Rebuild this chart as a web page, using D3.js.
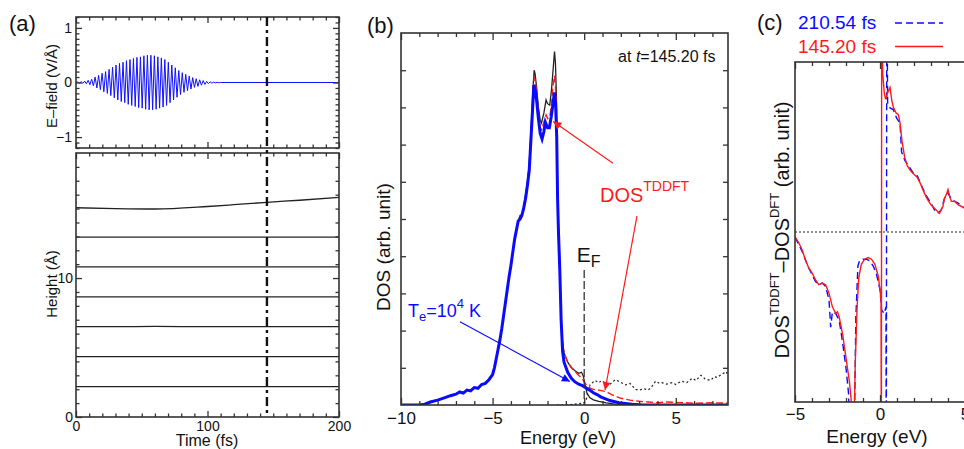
<!DOCTYPE html>
<html lang="en">
<head>
<meta charset="utf-8">
<title>E-field, layer heights and DOS</title>
<script src="https://d3js.org/d3.v7.min.js"></script>
<style>
  body { margin:0; background:#fff; }
  text { font-family: "Liberation Sans", Arial, Helvetica, sans-serif; }
</style>
</head>
<body>
<script>
// ---------- panel (a): laser pulse + layer heights ----------
var pulsePeakTimes = [1.3, 3.95, 6.6, 9.25, 11.9, 14.55, 17.2, 19.85, 22.5, 25.15, 27.8, 30.45, 33.1, 35.75,
  38.4, 41.05, 43.7, 46.35, 49.0, 51.65, 54.3, 56.95, 59.6, 62.25, 64.9, 67.55, 70.2, 72.85, 75.5, 78.15,
  80.8, 83.45, 86.1, 88.75, 91.4, 94.05, 96.7, 99.35, 102.0, 104.65, 107.3];
var pulsePeakAmps = [0.01, 0.015, 0.025, 0.04, 0.06, 0.1, 0.13, 0.17, 0.2, 0.24, 0.28, 0.32, 0.35, 0.37,
  0.4, 0.42, 0.44, 0.46, 0.47, 0.49, 0.5, 0.5, 0.49, 0.47, 0.45, 0.42, 0.37, 0.32, 0.27, 0.22,
  0.18, 0.15, 0.12, 0.09, 0.07, 0.05, 0.035, 0.02, 0.012, 0.007, 0.004];
var carrierHalfPeriod = 1.33;
var probeTime = 145.2;

var layerTimes = [0, 30, 60, 100, 120, 145, 170, 200];
var layerHeights = [
  [2.18, 2.18, 2.18, 2.18, 2.18, 2.18, 2.18, 2.18],
  [4.34, 4.34, 4.34, 4.34, 4.34, 4.34, 4.34, 4.34],
  [6.5, 6.5, 6.52, 6.5, 6.5, 6.5, 6.5, 6.5],
  [8.65, 8.65, 8.65, 8.65, 8.65, 8.65, 8.65, 8.65],
  [10.8, 10.8, 10.8, 10.81, 10.81, 10.81, 10.81, 10.81],
  [12.95, 12.95, 12.95, 12.95, 12.95, 12.95, 12.95, 12.95],
  [15.06, 15.0, 14.97, 15.15, 15.28, 15.45, 15.6, 15.8]
];

// ---------- panel (b): DOS at t = 145.20 fs ----------
var dosDFT = [[-10,0],[-9,0],[-8.7,0.02],[-8.4,0.08],[-8,0.14],[-7.6,0.2],[-7.3,0.25],[-7,0.3],[-6.8,0.36],
  [-6.6,0.33],[-6.4,0.41],[-6.2,0.39],[-6,0.47],[-5.8,0.45],[-5.6,0.55],[-5.4,0.58],[-5.2,0.68],[-5,0.82],
  [-4.9,1.0],[-4.8,1.25],[-4.7,1.5],[-4.6,1.75],[-4.5,2.05],[-4.4,2.4],[-4.3,2.75],[-4.2,3.1],[-4.1,3.45],
  [-4,3.75],[-3.9,4.1],[-3.8,4.45],[-3.7,4.7],[-3.6,4.95],[-3.5,5.1],[-3.4,5.1],[-3.3,5.35],[-3.2,5.65],
  [-3.1,6.0],[-3,6.5],[-2.9,7.4],[-2.8,8.5],[-2.73,9.0],[-2.68,8.9],[-2.6,8.55],[-2.5,8.0],[-2.4,7.65],
  [-2.33,7.58],[-2.2,7.85],[-2.08,8.2],[-2.0,8.1],[-1.88,8.06],[-1.78,8.5],[-1.7,9.0],[-1.62,9.5],
  [-1.57,9.2],[-1.52,8.4],[-1.47,6.5],[-1.43,4.8],[-1.35,4.0],[-1.28,2.6],[-1.2,1.75],[-1.1,1.4],
  [-0.9,1.15],[-0.7,1.0],[-0.5,0.92],[-0.3,0.85],[-0.15,0.88],[-0.05,0.78],[0.05,0.55],[0.15,0.32],
  [0.3,0.2],[0.5,0.14],[0.8,0.1],[1.2,0.06],[1.6,0.03],[2.2,0],[7.85,0]];
var dosTDDFT = [[-10,0],[-9,0],[-8.7,0.02],[-8.4,0.08],[-8,0.14],[-7.6,0.2],[-7.3,0.25],[-7,0.3],[-6.8,0.36],
  [-6.6,0.33],[-6.4,0.41],[-6.2,0.39],[-6,0.47],[-5.8,0.45],[-5.6,0.55],[-5.4,0.58],[-5.2,0.68],[-5,0.82],
  [-4.9,1.0],[-4.8,1.25],[-4.7,1.5],[-4.6,1.75],[-4.5,2.05],[-4.4,2.4],[-4.3,2.75],[-4.2,3.1],[-4.1,3.45],
  [-4,3.75],[-3.9,4.1],[-3.8,4.45],[-3.7,4.7],[-3.6,4.95],[-3.5,5.05],[-3.4,5.1],[-3.3,5.3],[-3.2,5.6],
  [-3.1,5.95],[-3,6.4],[-2.9,7.3],[-2.8,8.3],[-2.73,8.8],[-2.68,8.75],[-2.6,8.45],[-2.5,7.85],[-2.4,7.45],
  [-2.33,7.4],[-2.2,7.6],[-2.08,7.8],[-2.0,7.7],[-1.88,7.75],[-1.78,8.1],[-1.7,8.6],[-1.62,8.85],
  [-1.57,8.6],[-1.52,8.0],[-1.47,6.5],[-1.43,4.8],[-1.35,4.0],[-1.28,2.6],[-1.2,1.75],[-1.1,1.4],
  [-0.9,1.15],[-0.6,0.95],[-0.3,0.8],[-0.1,0.7],[0.1,0.55],[0.3,0.46],[0.5,0.42],[0.8,0.4],[1.0,0.38],
  [1.2,0.36],[1.5,0.28],[2.0,0.18],[2.5,0.13],[3.0,0.1],[3.5,0.08],[4.0,0.06],[4.5,0.08],[5.0,0.07],
  [5.5,0.06],[6.0,0.05],[7.0,0.06],[7.85,0.05]];
var dosHotElectron = [[-10,0],[-9,0],[-8.7,0.02],[-8.4,0.08],[-8,0.13],[-7.6,0.2],[-7.3,0.25],[-7,0.29],[-6.8,0.35],
  [-6.6,0.32],[-6.4,0.4],[-6.2,0.38],[-6,0.47],[-5.8,0.45],[-5.6,0.55],[-5.4,0.58],[-5.2,0.68],[-5,0.82],
  [-4.9,1.0],[-4.8,1.25],[-4.7,1.5],[-4.6,1.75],[-4.5,2.05],[-4.4,2.4],[-4.3,2.75],[-4.2,3.1],[-4.1,3.45],
  [-4,3.75],[-3.9,4.1],[-3.8,4.45],[-3.7,4.7],[-3.6,4.95],[-3.5,5.0],[-3.4,5.1],[-3.3,5.3],[-3.2,5.55],
  [-3.1,5.9],[-3,6.3],[-2.9,7.2],[-2.8,8.1],[-2.75,8.6],[-2.68,8.5],[-2.6,8.2],[-2.5,7.7],[-2.4,7.3],
  [-2.3,7.15],[-2.2,7.35],[-2.12,7.6],[-2.0,7.45],[-1.9,7.45],[-1.8,7.75],[-1.7,8.1],[-1.63,8.4],
  [-1.56,8.1],[-1.5,7.2],[-1.45,5.5],[-1.4,4.6],[-1.33,3.6],[-1.26,2.3],[-1.18,1.45],[-1.1,1.15],
  [-0.9,0.88],[-0.7,0.72],[-0.5,0.62],[-0.3,0.56],[-0.1,0.52],[0.1,0.46],[0.3,0.4],[0.5,0.33],[0.7,0.28],
  [0.9,0.22],[1.1,0.18],[1.4,0.12],[1.9,0.06],[2.6,0.02],[3.2,0],[7.85,0]];
var dosUnoccupied = [[-1.5,0],[-0.8,0.01],[-0.4,0.03],[-0.1,0.05],[0.1,0.1],[0.2,0.35],[0.32,0.54],[0.45,0.6],
  [0.6,0.66],[0.8,0.6],[0.97,0.66],[1.15,0.58],[1.33,0.52],[1.5,0.6],[1.7,0.68],[1.95,0.62],[2.25,0.54],
  [2.5,0.58],[2.8,0.42],[3.0,0.4],[3.25,0.44],[3.5,0.4],[3.7,0.5],[3.9,0.64],[4.1,0.58],[4.25,0.6],
  [4.5,0.56],[4.8,0.6],[5.0,0.55],[5.3,0.64],[5.6,0.6],[5.9,0.72],[6.1,0.66],[6.37,0.8],[6.6,0.7],
  [6.9,0.66],[7.1,0.76],[7.25,0.74],[7.5,0.82],[7.75,0.9],[7.85,0.8]];

// ---------- panel (c): DOS(TDDFT) - DOS(DFT) ----------
var diff14520 = [[-5,-0.03],[-4.8,-0.06],[-4.6,-0.1],[-4.4,-0.16],[-4.2,-0.21],[-4,-0.24],[-3.8,-0.28],
  [-3.6,-0.31],[-3.4,-0.3],[-3.2,-0.31],[-3,-0.36],[-2.8,-0.44],[-2.6,-0.48],[-2.5,-0.47],[-2.4,-0.5],
  [-2.2,-0.6],[-2,-0.74],[-1.8,-0.88],[-1.7,-0.98],[-1.6,-1.3],[-1.52,-1.1],[-1.45,-0.75],[-1.35,-0.45],
  [-1.25,-0.27],[-1.1,-0.19],[-0.9,-0.16],[-0.7,-0.15],[-0.5,-0.16],[-0.3,-0.19],[-0.1,-0.26],[0,-0.34],
  [0.06,-0.4],[0.08,-1.5],[0.1,1.5],[0.16,0.93],[0.25,0.82],[0.33,0.78],[0.45,0.82],[0.59,0.85],[0.7,0.77],
  [0.8,0.73],[0.95,0.7],[1.08,0.69],[1.18,0.64],[1.3,0.53],[1.45,0.44],[1.6,0.39],[1.8,0.36],[2,0.34],
  [2.2,0.32],[2.4,0.28],[2.6,0.23],[2.8,0.19],[3,0.16],[3.2,0.14],[3.5,0.11],[3.7,0.15],[3.8,0.2],
  [3.9,0.22],[4,0.25],[4.1,0.21],[4.2,0.18],[4.4,0.18],[4.6,0.16],[4.8,0.15],[5,0.14],[5.5,0.13]];
var diff21054 = [[-5,-0.03],[-4.8,-0.07],[-4.6,-0.11],[-4.4,-0.16],[-4.2,-0.21],[-4,-0.25],[-3.8,-0.29],
  [-3.6,-0.31],[-3.4,-0.3],[-3.2,-0.32],[-3,-0.4],[-2.9,-0.56],[-2.8,-0.47],[-2.6,-0.48],[-2.4,-0.52],
  [-2.2,-0.65],[-2,-0.8],[-1.85,-0.95],[-1.75,-1.3],[-1.6,-1.3],[-1.5,-1.1],[-1.42,-0.5],[-1.3,-0.2],
  [-1.2,-0.17],[-1,-0.16],[-0.8,-0.16],[-0.6,-0.17],[-0.4,-0.2],[-0.2,-0.25],[0,-0.34],[0.1,-0.46],
  [0.25,-0.48],[0.35,-0.44],[0.37,-1.5],[0.4,1.5],[0.45,0.76],[0.59,0.73],[0.78,0.72],[0.98,0.67],
  [1.18,0.64],[1.27,0.47],[1.47,0.42],[1.67,0.39],[2,0.34],[2.2,0.33],[2.5,0.26],[2.8,0.2],[3,0.17],
  [3.2,0.13],[3.4,0.11],[3.6,0.13],[3.8,0.2],[4,0.23],[4.2,0.19],[4.4,0.18],[4.6,0.17],[4.8,0.15],
  [5,0.14],[5.5,0.13]];
var legendLabels = ["210.54 fs", "145.20 fs"];

var frameColor = "#333";
var svg = d3.select("body").append("svg")
  .attr("width", 964).attr("height", 449)
  .style("background", "#fff");

// draw inward ticks on one side of a panel
function sideTicks(g, x, y, orient, values, size, labels, pad, fontSize) {
  var mk = {bottom: d3.axisBottom, top: d3.axisTop, left: d3.axisLeft, right: d3.axisRight}[orient];
  var scale = (orient == "bottom" || orient == "top") ? x : y;
  var ax = mk(scale).tickValues(values).tickSize(-size).tickSizeOuter(0).tickPadding(pad || 4);
  if (!labels) ax.tickFormat("");
  else ax.tickFormat(d3.format("d"));
  var tr = orient == "bottom" ? [0, y.range()[0]] : orient == "top" ? [0, y.range()[1]]
         : orient == "left" ? [x.range()[0], 0] : [x.range()[1], 0];
  var a = g.append("g").attr("transform", "translate(" + tr + ")").call(ax);
  a.select(".domain").remove();
  a.attr("font-family", null).attr("font-size", null);
  a.selectAll("line").attr("stroke", frameColor).attr("stroke-width", 1.3);
  a.selectAll("text").attr("font-size", fontSize || 14).attr("fill", "#111");
  return a;
}

function frame(g, x, y) {
  g.append("rect")
    .attr("x", x.range()[0]).attr("y", y.range()[1])
    .attr("width", x.range()[1] - x.range()[0])
    .attr("height", y.range()[0] - y.range()[1])
    .attr("fill", "none").attr("stroke", frameColor).attr("stroke-width", 1.6);
}

// text with sub/superscripts
function rich(g, parts, size, color) {
  var t = g.append("text").attr("font-size", size).attr("fill", color || "#111");
  var off = 0;
  parts.forEach(function(p) {
    var target = p.sup ? -(p.shift || 0.5) * size : p.sub ? 0.25 * size : 0;
    t.append("tspan").text(p.t)
      .attr("dy", target - off)
      .attr("font-style", p.italic ? "italic" : null)
      .attr("font-size", (p.sup || p.sub) ? Math.round(size * (p.scale || 0.7)) : size);
    off = target;
  });
  return t;
}

function clipFor(id, x, y) {
  svg.append("clipPath").attr("id", id).append("rect")
    .attr("x", x.range()[0]).attr("y", y.range()[1])
    .attr("width", x.range()[1] - x.range()[0])
    .attr("height", y.range()[0] - y.range()[1]);
  return "url(#" + id + ")";
}

var line = function(x, y) {
  return d3.line().x(function(d) { return x(d[0]); }).y(function(d) { return y(d[1]); });
};

// ======================= panel (a) =======================
var xA = d3.scaleLinear().domain([0, 200]).range([76, 339]);
var yField = d3.scaleLinear().domain([-1.2, 1.2]).range([148, 17]);
var yHeight = d3.scaleLinear().domain([0, 19]).range([417, 153]);
var gA = svg.append("g");

var minorTime = d3.range(0, 201, 10).filter(function(d) { return d % 100 != 0; });
var fieldMinor = d3.range(-12, 13).map(function(d) { return d / 10; }).filter(function(d) { return Math.abs(d % 1) > 0.01; });

// pulse: alternate positive / negative extrema per optical cycle
var pulse = [[0, 0]];
pulsePeakTimes.forEach(function(t, i) {
  pulse.push([t, pulsePeakAmps[i]]);
  pulse.push([t + carrierHalfPeriod, -pulsePeakAmps[i]]);
});
pulse.push([110, 0], [200, 0]);

gA.append("path").datum(pulse)
  .attr("d", line(xA, yField))
  .attr("fill", "none").attr("stroke", "#1010ff").attr("stroke-width", 1);

layerHeights.forEach(function(hs) {
  gA.append("path").datum(layerTimes.map(function(t, i) { return [t, hs[i]]; }))
    .attr("d", line(xA, yHeight).curve(d3.curveMonotoneX))
    .attr("fill", "none").attr("stroke", "#222").attr("stroke-width", 1.3);
});

// ticks, top panel
sideTicks(gA, xA, yField, "bottom", [0, 100, 200], 6, false);
sideTicks(gA, xA, yField, "bottom", minorTime, 3.5, false);
sideTicks(gA, xA, yField, "top", [0, 100, 200], 6, false);
sideTicks(gA, xA, yField, "top", minorTime, 3.5, false);
sideTicks(gA, xA, yField, "left", [-1, 0, 1], 6, true, 4, 14);
sideTicks(gA, xA, yField, "left", fieldMinor, 3.5, false);
sideTicks(gA, xA, yField, "right", [-1, 0, 1], 6, false);
sideTicks(gA, xA, yField, "right", fieldMinor, 3.5, false);
frame(gA, xA, yField);

// ticks, bottom panel
var heightMinor = d3.range(1, 19).filter(function(d) { return d != 10; });
sideTicks(gA, xA, yHeight, "bottom", [0, 100, 200], 6, true, 4, 14);
sideTicks(gA, xA, yHeight, "bottom", minorTime, 3.5, false);
sideTicks(gA, xA, yHeight, "top", [0, 100, 200], 6, false);
sideTicks(gA, xA, yHeight, "top", minorTime, 3.5, false);
sideTicks(gA, xA, yHeight, "left", [0, 10], 6, true, 3, 14);
sideTicks(gA, xA, yHeight, "left", heightMinor, 3.5, false);
sideTicks(gA, xA, yHeight, "right", [0, 10], 6, false);
sideTicks(gA, xA, yHeight, "right", heightMinor, 3.5, false);
frame(gA, xA, yHeight);

gA.append("line")
  .attr("x1", xA(probeTime)).attr("x2", xA(probeTime))
  .attr("y1", yField(1.2)).attr("y2", yHeight(0))
  .attr("stroke", "#111").attr("stroke-width", 2.4)
  .attr("stroke-dasharray", "9,4,3,4");

gA.append("text").attr("x", 207).attr("y", 446).attr("text-anchor", "middle")
  .attr("font-size", 16).attr("fill", "#111").text("Time (fs)");
gA.append("text").attr("transform", "translate(57,86) rotate(-90)").attr("text-anchor", "middle")
  .attr("font-size", 15).attr("fill", "#111").text("E\u2013field (V/\u00C5)");
gA.append("text").attr("transform", "translate(57,284) rotate(-90)").attr("text-anchor", "middle")
  .attr("font-size", 15).attr("fill", "#111").text("Height (\u00C5)");
gA.append("text").attr("x", 9).attr("y", 31).attr("font-size", 22).attr("fill", "#111").text("(a)");

// ======================= panel (b) =======================
var xB = d3.scaleLinear().domain([-10, 7.85]).range([401, 728]);
var yB = d3.scaleLinear().domain([0, 10]).range([405, 33]);
var gB = svg.append("g");
var clipB = clipFor("clipB", xB, yB);
var plotB = gB.append("g").attr("clip-path", clipB);

plotB.append("path").datum(dosUnoccupied).attr("d", line(xB, yB))
  .attr("fill", "none").attr("stroke", "#222").attr("stroke-width", 1.2).attr("stroke-dasharray", "2,2.5");
plotB.append("path").datum(dosDFT).attr("d", line(xB, yB))
  .attr("fill", "none").attr("stroke", "#222").attr("stroke-width", 1.3);
plotB.append("path").datum(dosTDDFT).attr("d", line(xB, yB))
  .attr("fill", "none").attr("stroke", "#ff1a1a").attr("stroke-width", 1.4).attr("stroke-dasharray", "7,3");
plotB.append("path").datum(dosHotElectron).attr("d", line(xB, yB))
  .attr("fill", "none").attr("stroke", "#0a0aff").attr("stroke-width", 3);

// Fermi level
gB.append("line").attr("x1", xB(0)).attr("x2", xB(0)).attr("y1", yB(3.63)).attr("y2", yB(0))
  .attr("stroke", "#333").attr("stroke-width", 1.3).attr("stroke-dasharray", "8,3");

var minorE = d3.range(-9, 8).filter(function(d) { return d % 5 != 0; });
sideTicks(gB, xB, yB, "bottom", [-10, -5, 0, 5], 7, true, 7, 17);
sideTicks(gB, xB, yB, "bottom", minorE, 4, false);
sideTicks(gB, xB, yB, "top", [-10, -5, 0, 5], 7, false);
sideTicks(gB, xB, yB, "top", minorE, 4, false);
sideTicks(gB, xB, yB, "left", d3.range(1, 10), 5, false);
sideTicks(gB, xB, yB, "right", d3.range(1, 10), 5, false);
frame(gB, xB, yB);

// arrows
var arrowsB = [
  {from: [1.57, 6.5], to: [-1.69, 7.62], color: "#ff1a1a"},
  {from: [2.88, 5.08], to: [1.14, 0.4], color: "#ff1a1a"},
  {from: [-6.78, 2.24], to: [-0.78, 0.63], color: "#0a0aff"}
];
var defs = svg.append("defs");
arrowsB.forEach(function(a, i) {
  defs.append("marker").attr("id", "arr" + i)
    .attr("viewBox", "0 0 10 10").attr("refX", 10).attr("refY", 5)
    .attr("markerWidth", 10).attr("markerHeight", 8).attr("markerUnits", "userSpaceOnUse")
    .attr("orient", "auto")
    .append("path").attr("d", "M0,0L10,5L0,10z").attr("fill", a.color);
  gB.append("line")
    .attr("x1", xB(a.from[0])).attr("y1", yB(a.from[1]))
    .attr("x2", xB(a.to[0])).attr("y2", yB(a.to[1]))
    .attr("stroke", a.color).attr("stroke-width", 1.2)
    .attr("marker-end", "url(#arr" + i + ")");
});

rich(gB, [{t: "DOS"}, {t: "TDDFT", sup: true, shift: 0.55, scale: 0.68}], 20, "#ff1a1a")
  .attr("x", xB(0.86)).attr("y", yB(5.47));
rich(gB, [{t: "T"}, {t: "e", sub: true}, {t: "=10"}, {t: "4", sup: true, shift: 0.48}, {t: " K"}], 18, "#0a0aff")
  .attr("x", xB(-9.62)).attr("y", yB(2.37));
rich(gB, [{t: "E"}, {t: "F", sub: true, scale: 0.75}], 21, "#111")
  .attr("x", xB(-0.41)).attr("y", yB(3.85));
rich(gB, [{t: "at "}, {t: "t", italic: true}, {t: "=145.20 fs"}], 16, "#111")
  .attr("x", xB(1.85)).attr("y", yB(9.23));

gB.append("text").attr("x", 568).attr("y", 444).attr("text-anchor", "middle")
  .attr("font-size", 18).attr("fill", "#111").text("Energy (eV)");
gB.append("text").attr("transform", "translate(389.5,247) rotate(-90)").attr("text-anchor", "middle")
  .attr("font-size", 19).attr("fill", "#111").text("DOS (arb. unit)");
gB.append("text").attr("x", 367).attr("y", 33).attr("font-size", 22).attr("fill", "#111").text("(b)");

// ======================= panel (c) =======================
var xC = d3.scaleLinear().domain([-5, 6]).range([795, 982]);
var yC = d3.scaleLinear().domain([-1, 1]).range([402, 62]);
var gC = svg.append("g");
var clipC = clipFor("clipC", xC, yC);
var plotC = gC.append("g").attr("clip-path", clipC);

plotC.append("line").attr("x1", xC(-5)).attr("x2", xC(6)).attr("y1", yC(0)).attr("y2", yC(0))
  .attr("stroke", "#222").attr("stroke-width", 1.2).attr("stroke-dasharray", "2,2");
plotC.append("path").datum(diff21054).attr("d", line(xC, yC))
  .attr("fill", "none").attr("stroke", "#0a0aff").attr("stroke-width", 1.4).attr("stroke-dasharray", "7,4");
plotC.append("path").datum(diff14520).attr("d", line(xC, yC))
  .attr("fill", "none").attr("stroke", "#ff1a1a").attr("stroke-width", 1.4);

var minorC = d3.range(-4, 6).filter(function(d) { return d % 5 != 0; });
sideTicks(gC, xC, yC, "bottom", [-5, 0, 5], 7, true, 6, 17);
sideTicks(gC, xC, yC, "bottom", minorC, 4, false);
sideTicks(gC, xC, yC, "top", [-5, 0, 5], 7, false);
sideTicks(gC, xC, yC, "top", minorC, 4, false);
frame(gC, xC, yC);

// legend
var legendColors = ["#0a0aff", "#ff1a1a"];
var legendDash = ["7,4", null];
legendLabels.forEach(function(lab, i) {
  var yy = 29 + i * 23.5;
  gC.append("text").attr("x", 798).attr("y", yy).attr("font-size", 19)
    .attr("fill", legendColors[i]).text(lab);
  gC.append("line").attr("x1", 895).attr("x2", 943).attr("y1", yy - 6).attr("y2", yy - 6)
    .attr("stroke", legendColors[i]).attr("stroke-width", 1.4)
    .attr("stroke-dasharray", legendDash[i]);
});

gC.append("text").attr("x", 877).attr("y", 443).attr("text-anchor", "middle")
  .attr("font-size", 19).attr("fill", "#111").text("Energy (eV)");
rich(gC, [{t: "DOS"}, {t: "TDDFT", sup: true, shift: 0.5, scale: 0.66}, {t: "\u2013DOS"},
          {t: "DFT", sup: true, shift: 0.5, scale: 0.66}, {t: " (arb. unit)"}], 20, "#111")
  .attr("transform", "translate(789,230) rotate(-90)").attr("text-anchor", "middle");
gC.append("text").attr("x", 757).attr("y", 30).attr("font-size", 22).attr("fill", "#111").text("(c)");
</script>
</body>
</html>
